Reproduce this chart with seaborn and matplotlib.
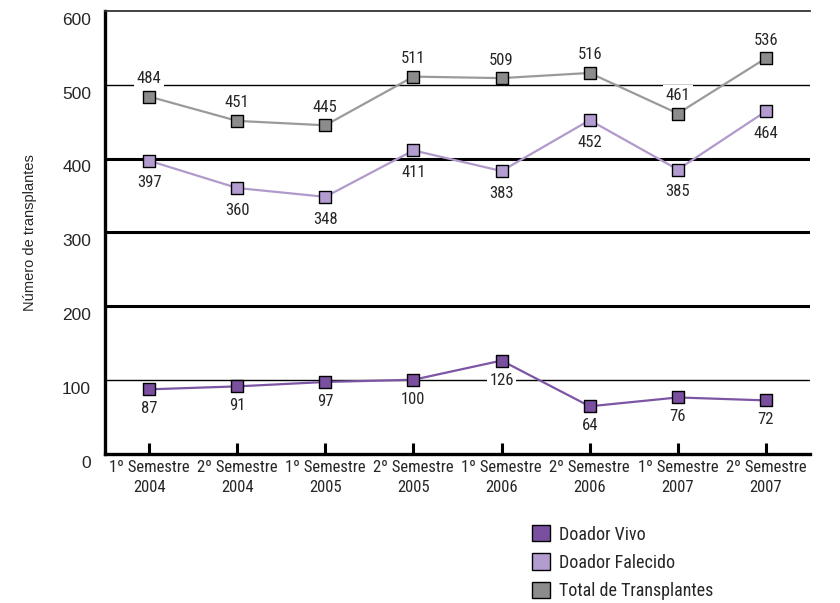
import matplotlib
matplotlib.use("Agg")
import matplotlib.pyplot as plt
import matplotlib.transforms as mtransforms
from matplotlib.patches import Patch
import seaborn as sns
import pandas as pd

categories = ["1º Semestre\n2004", "2º Semestre\n2004", "1º Semestre\n2005", "2º Semestre\n2005",
              "1º Semestre\n2006", "2º Semestre\n2006", "1º Semestre\n2007", "2º Semestre\n2007"]
doador_vivo = [87, 91, 97, 100, 126, 64, 76, 72]
doador_falecido = [397, 360, 348, 411, 383, 452, 385, 464]
total = [484, 451, 445, 511, 509, 516, 461, 536]
series_names = ["Doador Vivo", "Doador Falecido", "Total de Transplantes"]
y_ticks = [0, 100, 200, 300, 400, 500, 600]

sns.set_theme(style="white")
narrow = ["Roboto Condensed", "Liberation Sans Narrow", "Roboto", "DejaVu Sans"]
plt.rcParams["font.family"] = narrow

line_colors = {"Doador Vivo": "#7d55a5", "Doador Falecido": "#b09acb", "Total de Transplantes": "#9a9a9a"}
fill_colors = {"Doador Vivo": "#7b4fa0", "Doador Falecido": "#b39dd0", "Total de Transplantes": "#8c8c8c"}

rows = []
for name, vals in zip(series_names, [doador_vivo, doador_falecido, total]):
    for i, v in enumerate(vals):
        rows.append({"x": i, "valor": v, "serie": name})
df = pd.DataFrame(rows)

fig = plt.figure(figsize=(8.4, 6.03), dpi=100)
ax = fig.add_axes([105 / 840, 1 - 453.5 / 603, 705 / 840, 442.5 / 603])

# gridlines (styling)
for yv, lw in [(100, 1.0), (200, 2.2), (300, 2.2), (400, 2.2), (500, 1.0)]:
    ax.axhline(yv, color="black", lw=lw, zorder=1)

sns.lineplot(data=df, x="x", y="valor", hue="serie", palette=line_colors, ax=ax,
             lw=1.6, legend=False, zorder=3)

for name, vals in zip(series_names, [doador_vivo, doador_falecido, total]):
    ax.scatter(range(len(vals)), vals, marker="s", s=70, color=fill_colors[name],
               edgecolor="black", linewidth=1.0, zorder=4)

# data labels
offsets = {"Doador Vivo": -14, "Doador Falecido": -16, "Total de Transplantes": 13}
for name, vals in zip(series_names, [doador_vivo, doador_falecido, total]):
    for i, v in enumerate(vals):
        ax.annotate(str(v), (i, v), xytext=(0, offsets[name]), textcoords="offset points",
                    ha="center", va="center", fontsize=12, family=narrow, zorder=2,
                    bbox=dict(boxstyle="square,pad=0.15", fc="white", ec="none"))

ax.set_xlim(-0.5, 7.5)
ax.set_ylim(0, 600)
ax.set_xticks(range(len(categories)))
ax.set_xticklabels(categories, fontsize=12, family=narrow, linespacing=1.35)
ax.set_yticks(y_ticks)
ax.set_yticklabels([str(t) for t in y_ticks], fontsize=12.5, family=["Liberation Sans", "DejaVu Sans"])
ax.set_xlabel("")
ax.set_ylabel("Número de transplantes", fontsize=10.5, family=["Liberation Sans", "DejaVu Sans"], labelpad=18)

ax.tick_params(axis="x", direction="in", length=8, width=2.2, color="black", pad=5, bottom=True)
ax.tick_params(axis="y", length=0, pad=10)
offset = mtransforms.ScaledTranslation(0, -0.08, fig.dpi_scale_trans)
for lbl in ax.get_yticklabels():
    lbl.set_transform(lbl.get_transform() + offset)

for side in ["left", "bottom"]:
    ax.spines[side].set_visible(True)
    ax.spines[side].set_color("black")
    ax.spines[side].set_linewidth(2.4)
ax.spines["top"].set_color("#333333")
ax.spines["top"].set_linewidth(1.3)
ax.spines["right"].set_visible(False)

handles = [Patch(facecolor=fill_colors[n], edgecolor="black", linewidth=1.0) for n in series_names]
fig.legend(handles, series_names, loc="upper left", bbox_to_anchor=(516 / 840, 1 - 509 / 603),
           frameon=False, handlelength=1.0, handleheight=1.0,
           handletextpad=0.5, labelspacing=0.55, prop={"family": narrow, "size": 13})

fig.savefig("out.png", dpi=100)
